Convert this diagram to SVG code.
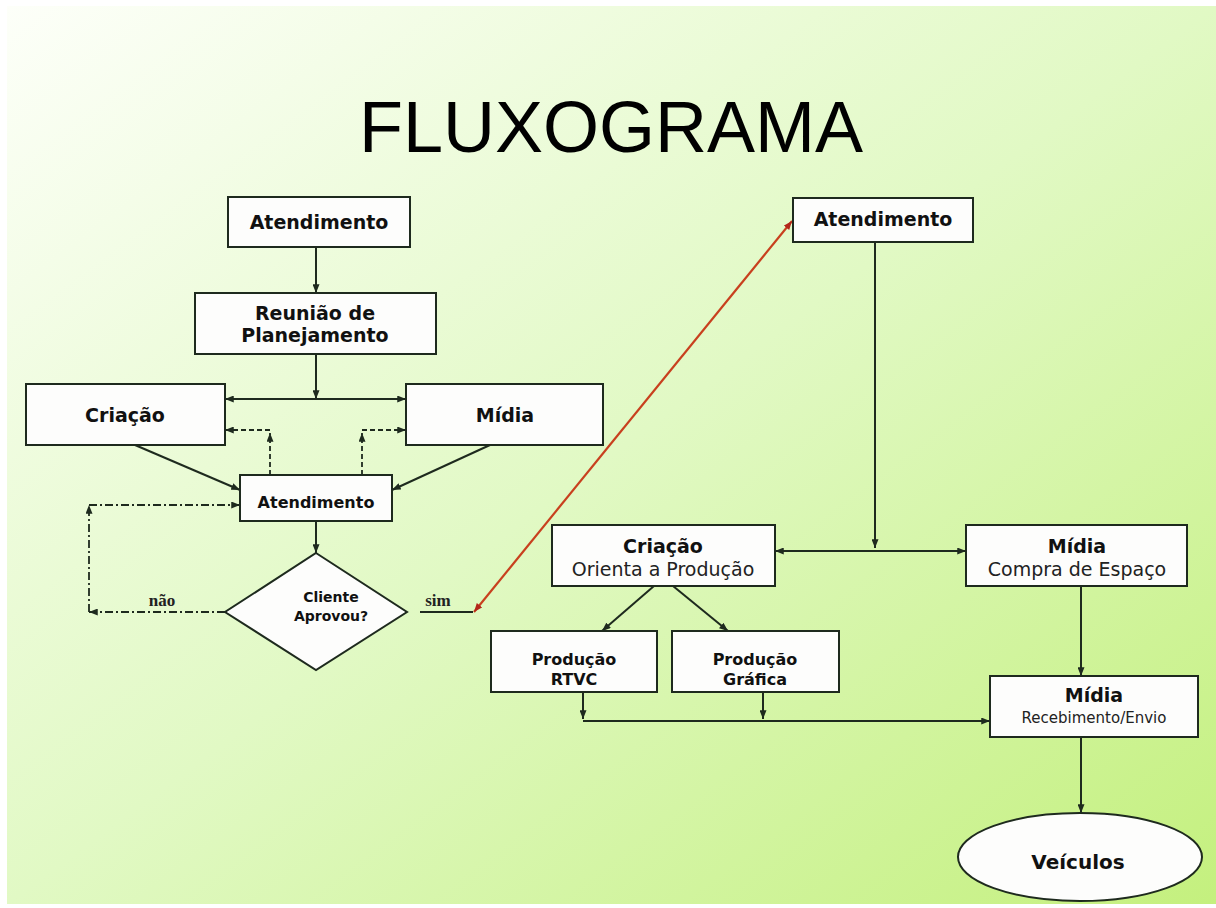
<svg xmlns="http://www.w3.org/2000/svg" width="1216" height="908" viewBox="0 0 1216 908">
  <defs>
    <linearGradient id="bg" x1="0" y1="0" x2="1" y2="1">
      <stop offset="0" stop-color="#fdfff9"/>
      <stop offset="0.5" stop-color="#e1f9c4"/>
      <stop offset="1" stop-color="#c4f07e"/>
    </linearGradient>
    <marker id="ar" viewBox="0 0 10 8" refX="10" refY="4" markerWidth="9" markerHeight="7" markerUnits="userSpaceOnUse" orient="auto-start-reverse">
      <path d="M0,0 L10,4 L0,8 z" fill="#1e2a1e"/>
    </marker>
    <marker id="arr" viewBox="0 0 10 8" refX="10" refY="4" markerWidth="9" markerHeight="7" markerUnits="userSpaceOnUse" orient="auto-start-reverse">
      <path d="M0,0 L10,4 L0,8 z" fill="#b3261a"/>
    </marker>
    <style>
      .box { fill: #fdfdfc; stroke: #1e2a1e; stroke-width: 2; }
      .ln { fill: none; stroke: #1e2a1e; stroke-width: 2; }
      .dash { fill: none; stroke: #1e2a1e; stroke-width: 1.8; stroke-dasharray: 5 3; }
      .dd { fill: none; stroke: #1e2a1e; stroke-width: 1.8; stroke-dasharray: 8 3 2 3; }
      .red { fill: none; stroke: #c8401e; stroke-width: 2.2; }
      .b { font-family: "DejaVu Sans", Verdana, sans-serif; font-weight: bold; fill: #111; text-anchor: middle; }
      .r { font-family: "DejaVu Sans", Verdana, sans-serif; fill: #222; text-anchor: middle; }
      .s { font-family: "Liberation Serif", "Times New Roman", serif; font-weight: bold; fill: #222; text-anchor: middle; }
    </style>
  </defs>

  <rect x="0" y="0" width="1216" height="908" fill="#ffffff"/>
  <rect x="7" y="6" width="1209" height="898" fill="url(#bg)"/>

  <text x="611" y="152" font-family="Liberation Sans, Arial, sans-serif" font-size="72" fill="#000" text-anchor="middle">FLUXOGRAMA</text>

  <g id="connectors">
    <path class="ln" d="M316,247 V293" marker-end="url(#ar)"/>
    <path class="ln" d="M316,354 V399" marker-end="url(#ar)"/>
    <path class="ln" d="M225,399 H406" marker-start="url(#ar)" marker-end="url(#ar)"/>
    <path class="ln" d="M135,445 L240,490" marker-end="url(#ar)"/>
    <path class="ln" d="M490,445 L392,490" marker-end="url(#ar)"/>
    <path class="dash" d="M270,475 V433" marker-end="url(#ar)"/>
    <path class="dash" d="M270,430 H225" marker-end="url(#ar)"/>
    <path class="dash" d="M362,475 V433" marker-end="url(#ar)"/>
    <path class="dash" d="M362,430 H406" marker-end="url(#ar)"/>
    <path class="ln" d="M316,521 V553" marker-end="url(#ar)"/>
    <path class="dd" d="M225,612 H89" marker-end="url(#ar)"/>
    <path class="dd" d="M89,612 V505" marker-end="url(#ar)"/>
    <path class="dd" d="M89,505 H240" marker-end="url(#ar)"/>
    <path class="ln" d="M420,612 H473"/>
    <path class="red" d="M474,612 L792,221" marker-start="url(#arr)" marker-end="url(#arr)"/>
    <path class="ln" d="M875,242 V548" marker-end="url(#ar)"/>
    <path class="ln" d="M775,551 H966" marker-start="url(#ar)" marker-end="url(#ar)"/>
    <path class="ln" d="M654,586 L602,631" marker-end="url(#ar)"/>
    <path class="ln" d="M673,586 L728,631" marker-end="url(#ar)"/>
    <path class="ln" d="M583,692 V719" marker-end="url(#ar)"/>
    <path class="ln" d="M763,692 V719" marker-end="url(#ar)"/>
    <path class="ln" d="M583,721 H990" marker-end="url(#ar)"/>
    <path class="ln" d="M1081,586 V676" marker-end="url(#ar)"/>
    <path class="ln" d="M1081,737 V813" marker-end="url(#ar)"/>
  </g>

  <g id="atendimento1">
    <rect class="box" x="228" y="197" width="182" height="50"/>
    <text class="b" x="319" y="229" font-size="19">Atendimento</text>
  </g>
  <g id="reuniao">
    <rect class="box" x="195" y="293" width="241" height="61"/>
    <text class="b" x="315" y="320" font-size="19">Reunião de</text>
    <text class="b" x="315" y="342" font-size="19">Planejamento</text>
  </g>
  <g id="criacao1">
    <rect class="box" x="26" y="384" width="199" height="61"/>
    <text class="b" x="125" y="422" font-size="19">Criação</text>
  </g>
  <g id="midia1">
    <rect class="box" x="406" y="384" width="197" height="61"/>
    <text class="b" x="505" y="422" font-size="19">Mídia</text>
  </g>
  <g id="atendimento2">
    <rect class="box" x="240" y="475" width="152" height="46"/>
    <text class="b" x="316" y="508" font-size="16">Atendimento</text>
  </g>
  <g id="decisao">
    <polygon class="box" points="316,553 407,612 316,670 225,612"/>
    <text class="b" x="331" y="602" font-size="14">Cliente</text>
    <text class="b" x="331" y="621" font-size="14">Aprovou?</text>
  </g>
  <g id="labels">
    <text class="s" x="162" y="606" font-size="17">não</text>
    <text class="s" x="438" y="606" font-size="17">sim</text>
  </g>
  <g id="atendimento3">
    <rect class="box" x="793" y="198" width="180" height="44"/>
    <text class="b" x="883" y="226" font-size="19">Atendimento</text>
  </g>
  <g id="criacao2">
    <rect class="box" x="552" y="525" width="223" height="61"/>
    <text class="b" x="663" y="553" font-size="19">Criação</text>
    <text class="r" x="663" y="576" font-size="19">Orienta a Produção</text>
  </g>
  <g id="midia2">
    <rect class="box" x="966" y="525" width="221" height="61"/>
    <text class="b" x="1077" y="553" font-size="19">Mídia</text>
    <text class="r" x="1077" y="576" font-size="19">Compra de Espaço</text>
  </g>
  <g id="producao-rtvc">
    <rect class="box" x="491" y="631" width="166" height="61"/>
    <text class="b" x="574" y="665" font-size="16">Produção</text>
    <text class="b" x="574" y="685" font-size="16">RTVC</text>
  </g>
  <g id="producao-grafica">
    <rect class="box" x="672" y="631" width="167" height="61"/>
    <text class="b" x="755" y="665" font-size="16">Produção</text>
    <text class="b" x="755" y="685" font-size="16">Gráfica</text>
  </g>
  <g id="midia3">
    <rect class="box" x="990" y="676" width="208" height="61"/>
    <text class="b" x="1094" y="702" font-size="19">Mídia</text>
    <text class="r" x="1094" y="723" font-size="15">Recebimento/Envio</text>
  </g>
  <g id="veiculos">
    <ellipse class="box" cx="1080" cy="857" rx="122" ry="44"/>
    <text class="b" x="1078" y="869" font-size="20">Veículos</text>
  </g>
</svg>
